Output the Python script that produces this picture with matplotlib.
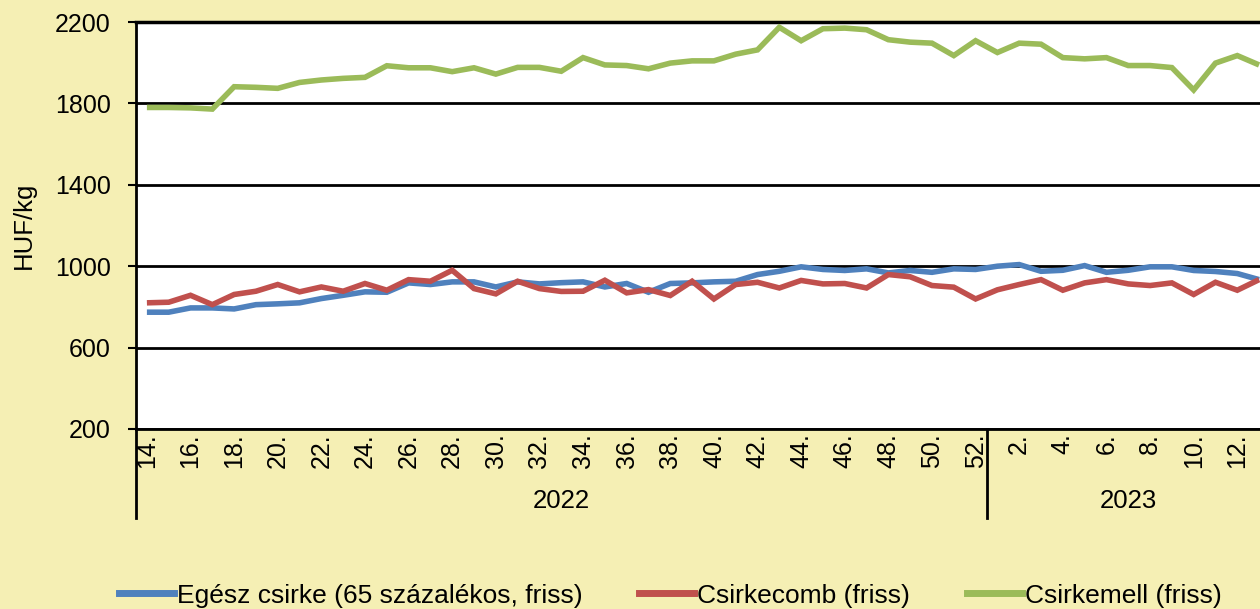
import matplotlib
matplotlib.use("Agg")
import matplotlib.pyplot as plt
import matplotlib.transforms as mtransforms
from matplotlib.lines import Line2D

plt.rcParams['font.family'] = ['Liberation Sans', 'DejaVu Sans']

weeks_2022 = list(range(14, 53))
weeks_2023 = list(range(1, 14))
categories = [f"{w}." for w in weeks_2022] + [f"{w}." for w in weeks_2023]
years = ["2022", "2023"]

egesz_csirke = [774, 774, 795, 795, 790, 811, 815, 820, 841, 857, 874, 872, 918, 910, 923, 923,
                898, 923, 913, 919, 923, 898, 915, 872, 915, 918, 923, 926, 959, 975, 997, 984,
                979, 987, 967, 979, 970, 987, 984, 1000, 1008, 975, 980, 1003, 970, 980, 997,
                997, 979, 974, 964, 934]
csirkecomb = [820, 823, 857, 811, 861, 877, 910, 874, 898, 877, 915, 882, 934, 926, 980, 890,
              864, 926, 890, 876, 877, 931, 869, 885, 856, 926, 839, 910, 921, 893, 930, 913,
              915, 893, 959, 948, 905, 897, 839, 884, 910, 934, 882, 918, 934, 913, 905, 918,
              861, 921, 882, 934]
csirkemell = [1780, 1780, 1778, 1772, 1882, 1879, 1874, 1903, 1915, 1923, 1928, 1985, 1975, 1975,
              1956, 1975, 1944, 1977, 1977, 1958, 2025, 1989, 1986, 1970, 1998, 2009, 2009, 2042,
              2063, 2174, 2108, 2167, 2170, 2162, 2113, 2101, 2096, 2035, 2108, 2050, 2096, 2091,
              2025, 2019, 2025, 1986, 1986, 1976, 1866, 1998, 2035, 1989]
series_names = ["Egész csirke (65 százalékos, friss)", "Csirkecomb (friss)", "Csirkemell (friss)"]
colors = ["#4F81BD", "#C0504D", "#9BBB59"]
yticks = [200, 600, 1000, 1400, 1800, 2200]

W, H = 1260, 609
bg = "#F5EFB4"
fig = plt.figure(figsize=(W / 100, H / 100), dpi=100, facecolor=bg)

n = len(categories)
left_px, right_px = 136, 1270
top_px, bot_px = 22, 429
ax = fig.add_axes([left_px / W, (H - bot_px) / H, (right_px - left_px) / W, (bot_px - top_px) / H])
ax.set_facecolor("white")
x = list(range(n))
for vals, c, name in zip([egesz_csirke, csirkecomb, csirkemell], colors, series_names):
    ax.plot(x, vals, color=c, lw=4, label=name, solid_capstyle='butt', solid_joinstyle='miter', zorder=3)

ax.set_xlim(-0.5, n - 0.5)
ax.set_ylim(200, 2200)
ax.set_yticks(yticks)
ax.set_yticklabels([str(v) for v in yticks], fontsize=18)
ax.grid(axis='y', color='black', lw=2, zorder=1)
ax.spines['right'].set_visible(False)
ax.spines['top'].set_linewidth(2.5)
ax.spines['left'].set_linewidth(2)
ax.spines['bottom'].set_linewidth(2)
ax.tick_params(axis='y', length=6, width=1.5, direction='out', pad=12)

tick_idx = [i for i in range(n) if (i < 39 and i % 2 == 0) or (i >= 39 and (i - 39) % 2 == 1)]
ax.set_xticks(tick_idx)
ax.set_xticklabels([categories[i] for i in tick_idx], rotation=90, fontsize=18, va='top')
ax.tick_params(axis='x', length=0, pad=3)

ax.set_ylabel("HUF/kg", fontsize=18.5)
ax.yaxis.set_label_coords(-100 / (right_px - left_px), 0.5)

trans = mtransforms.blended_transform_factory(ax.transData, ax.transAxes)
for xb in [-0.5, 38.5]:
    ax.plot([xb, xb], [0, -0.219], transform=trans, color='black', lw=2, clip_on=False)
ax.text(19, -0.178, years[0], transform=trans, ha='center', va='center', fontsize=18.5)
ax.text(45, -0.178, years[1], transform=trans, ha='center', va='center', fontsize=18.5)

handles = [Line2D([0], [0], color=c, lw=5) for c in colors]
fig.legend(handles, series_names, loc='center', bbox_to_anchor=(670 / W, 0.022), ncol=3,
           frameon=False, fontsize=19, handlelength=2.1, handletextpad=0.1, columnspacing=2.15,
           borderpad=0, borderaxespad=0)

fig.savefig("out.png", dpi=100, facecolor=bg)
